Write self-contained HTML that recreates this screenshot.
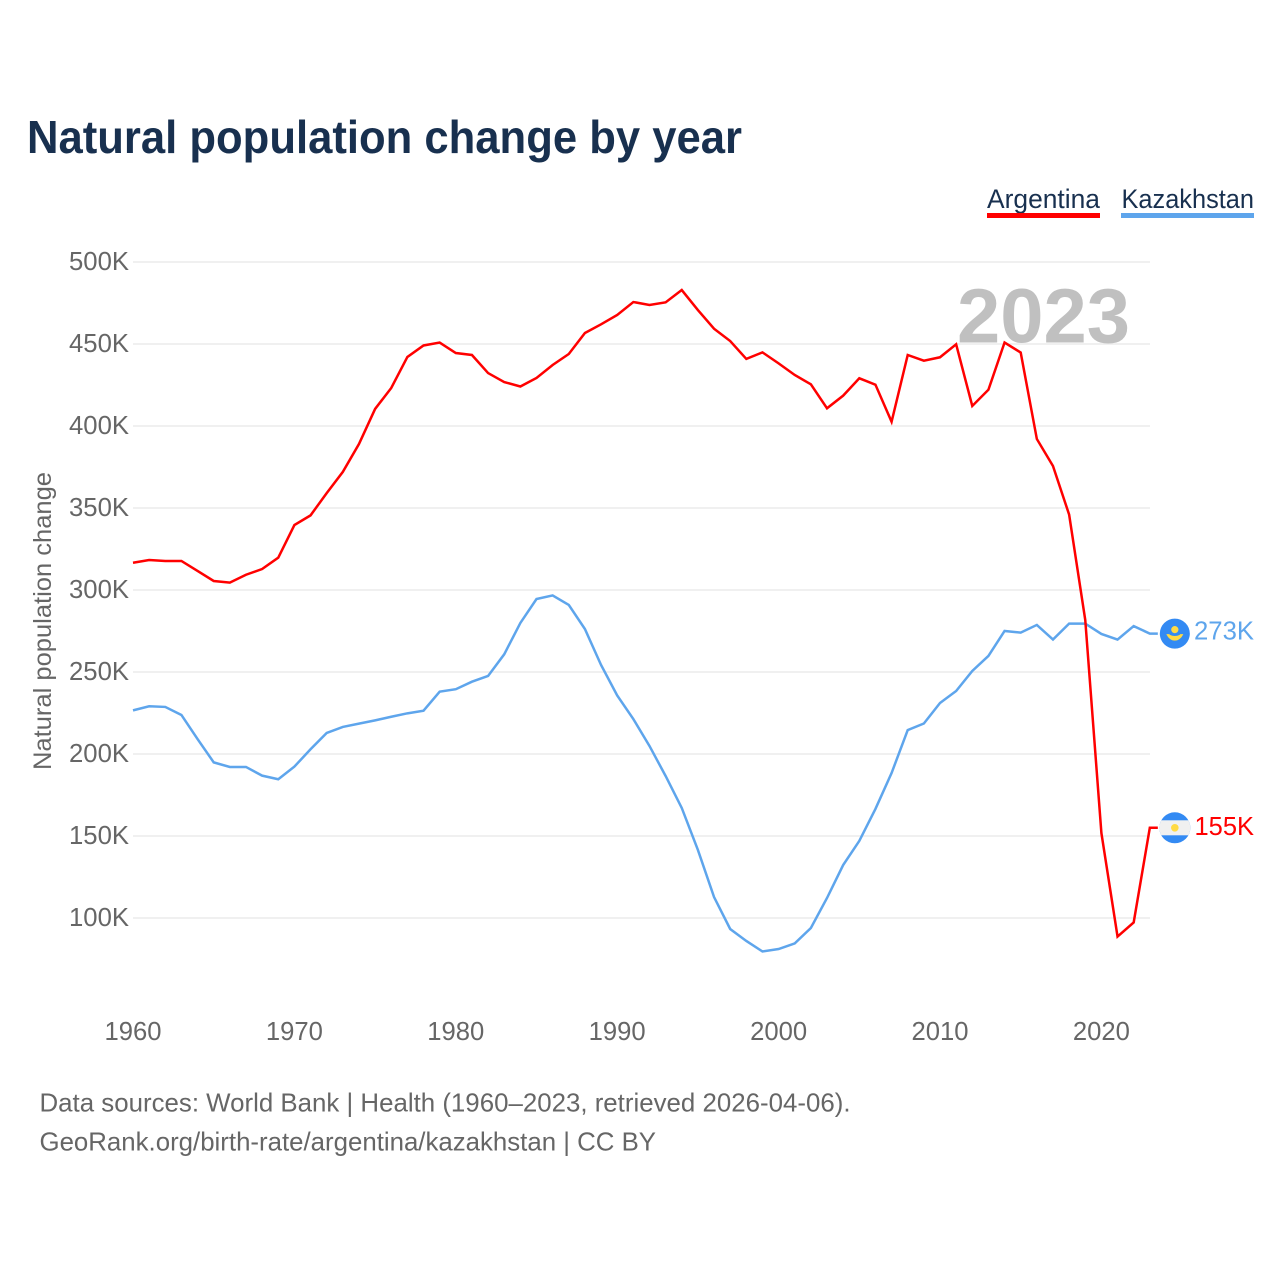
<!DOCTYPE html>
<html lang="en">
<head>
<meta charset="utf-8">
<title>Natural population change by year</title>
<style>
  html, body { margin: 0; padding: 0; background: #fff; }
  svg { display: block; font-family: "Liberation Sans", sans-serif; }
</style>
</head>
<body>
<svg id="chart" xmlns="http://www.w3.org/2000/svg" width="1280" height="1280" viewBox="0 0 1280 1280">
  <defs>
    <clipPath id="flag-clip"><circle cx="0" cy="0" r="15.5"></circle></clipPath>
  </defs>
  <rect x="0" y="0" width="1280" height="1280" fill="#ffffff"></rect>

  <text x="27" y="153" font-size="46" font-weight="700" fill="#18304f" textLength="715" lengthAdjust="spacingAndGlyphs">Natural population change by year</text>

  <g>
    <text x="987" y="208" font-size="27" fill="#18304f" textLength="113" lengthAdjust="spacingAndGlyphs">Argentina</text>
    <rect x="987" y="213" width="113" height="5" fill="#ff0000"></rect>
  </g>
  <g>
    <text x="1121.5" y="208" font-size="27" fill="#18304f" textLength="132.5" lengthAdjust="spacingAndGlyphs">Kazakhstan</text>
    <rect x="1121" y="213" width="133" height="5" fill="#5ea5ec"></rect>
  </g>

  <g id="grid"></g>
  <g id="y-ticks"></g>
  <g id="x-ticks"></g>

  <text x="957" y="342.5" font-size="77" font-weight="700" fill="#c0c0c0" textLength="173" lengthAdjust="spacingAndGlyphs">2023</text>

  <text transform="translate(51 621) rotate(-90)" text-anchor="middle" font-size="25" fill="#666666" textLength="298" lengthAdjust="spacingAndGlyphs">Natural population change</text>

  <path id="line-kazakhstan" fill="none" stroke="#5ea5ec" stroke-width="2.5" stroke-linejoin="miter"></path>
  <path id="line-argentina" fill="none" stroke="#ff0000" stroke-width="2.5" stroke-linejoin="miter"></path>

  <g id="flag-kazakhstan">
    <circle cx="0" cy="0" r="15" fill="#338af3"></circle>
    <circle cx="0" cy="-4" r="3.6" fill="#ffda44"></circle>
    <path d="M-8.5 0.5 L-5.5 0.5 C-3.5 3 3.5 3 5.5 0.5 L8.5 0.5 C6 5.5 3 7 0 7 C-3 7 -6 5.5 -8.5 0.5 Z" fill="#ffda44"></path>
  </g>
  <g id="flag-argentina">
    <circle cx="0" cy="0" r="15.5" fill="#338af3"></circle>
    <rect x="-16" y="-7.5" width="32" height="15" fill="#f0f0f0" clip-path="url(#flag-clip)"></rect>
    <circle cx="0" cy="0" r="3.8" fill="#ffda44"></circle>
  </g>

  <text id="label-kazakhstan" x="1194" font-size="25.5" fill="#5ea5ec" textLength="60" lengthAdjust="spacingAndGlyphs"></text>
  <text id="label-argentina" x="1194.5" font-size="25.5" fill="#ff0000" textLength="59.5" lengthAdjust="spacingAndGlyphs"></text>

  <text x="39.5" y="1111.5" font-size="26" fill="#666666" textLength="811" lengthAdjust="spacingAndGlyphs">Data sources: World Bank | Health (1960–2023, retrieved 2026-04-06).</text>
  <text x="39.5" y="1150.5" font-size="26" fill="#666666" textLength="616.5" lengthAdjust="spacingAndGlyphs">GeoRank.org/birth-rate/argentina/kazakhstan | CC BY</text>
</svg>

<script>
const startYear = 1960;
const argentinaValues = [316.6,318.3,317.7,317.7,311.6,305.5,304.5,309.3,312.8,319.7,339.6,345.5,359.1,372,389,410.4,423.2,442.1,449.1,450.9,444.5,443.3,432.3,426.8,424.1,429.3,437.2,443.9,456.7,462,467.7,475.6,473.8,475.4,482.9,470.7,459.3,451.8,440.9,444.9,438.2,431.1,425.4,410.8,418.5,429.1,425.2,402.6,443.3,439.8,441.9,449.8,412.2,422.1,450.9,444.8,392.1,375.6,346,281.7,151.8,88.7,97.3,155];
const kazakhstanValues = [226.6,229.1,228.7,223.8,209.1,194.9,192.1,192.1,186.8,184.6,192.3,202.9,212.8,216.5,218.5,220.5,222.7,224.8,226.4,238,239.5,244.1,247.6,260.8,279.9,294.5,296.7,290.9,276.2,254.3,235.7,221.3,204.9,186.6,167.1,141.5,112.8,93.3,86,79.6,81.1,84.5,93.9,112.2,132.3,147,166.5,188.4,214.6,218.6,231.1,238.4,250.6,259.8,275,274,278.7,269.8,279.5,279.5,273.2,269.8,278,273.4];
const yTickValues = [100,150,200,250,300,350,400,450,500];
const xTickValues = [1960,1970,1980,1990,2000,2010,2020];

const SVG_NS = 'http://www.w3.org/2000/svg';
const xScale = function (year) { return 133 + (year - 1960) * 16.14; };
const yScale = function (k) { return 918 - (k - 100) * 1.64; };

function linePath(values) {
  let d = '';
  values.forEach(function (v, i) {
    d += (i ? 'L' : 'M') + xScale(startYear + i).toFixed(2) + ' ' + yScale(v).toFixed(2);
  });
  const last = values[values.length - 1];
  d += 'L' + (xScale(startYear + values.length - 1) + 8).toFixed(2) + ' ' + yScale(last).toFixed(2);
  return d;
}

const gridGroup = document.getElementById('grid');
const yTickGroup = document.getElementById('y-ticks');
const xTickGroup = document.getElementById('x-ticks');

yTickValues.forEach(function (t) {
  const line = document.createElementNS(SVG_NS, 'line');
  
  
  line.setAttribute('x1', xScale(1960));
  line.setAttribute('x2', 1150);
  line.setAttribute('y1', yScale(t));
  line.setAttribute('y2', yScale(t));
  line.setAttribute('stroke', '#ececec');
  line.setAttribute('stroke-width', '1.4');
  gridGroup.appendChild(line);

  const label = document.createElementNS(SVG_NS, 'text');
  
  
  label.setAttribute('x', 69);
  label.setAttribute('y', yScale(t) + 8);
  label.setAttribute('font-size', '25.5');
  label.setAttribute('fill', '#666666');
  label.setAttribute('textLength', '60');
  label.setAttribute('lengthAdjust', 'spacingAndGlyphs');
  label.textContent = t + 'K';
  yTickGroup.appendChild(label);
});

xTickValues.forEach(function (t) {
  const label = document.createElementNS(SVG_NS, 'text');
  
  
  label.setAttribute('x', xScale(t) - 28.5);
  label.setAttribute('y', 1040);
  label.setAttribute('font-size', '25.5');
  label.setAttribute('fill', '#666666');
  label.setAttribute('textLength', '57');
  label.setAttribute('lengthAdjust', 'spacingAndGlyphs');
  label.textContent = String(t);
  xTickGroup.appendChild(label);
});

document.getElementById('line-argentina').setAttribute('d', linePath(argentinaValues));
document.getElementById('line-kazakhstan').setAttribute('d', linePath(kazakhstanValues));

const lastArgentina = argentinaValues[argentinaValues.length - 1];
const lastKazakhstan = kazakhstanValues[kazakhstanValues.length - 1];
const flagX = xScale(startYear + argentinaValues.length - 1) + 25;

document.getElementById('flag-argentina').setAttribute('transform', 'translate(' + flagX + ' ' + yScale(lastArgentina) + ')');
document.getElementById('flag-kazakhstan').setAttribute('transform', 'translate(' + flagX + ' ' + yScale(lastKazakhstan) + ')');

const argentinaLabel = document.getElementById('label-argentina');
argentinaLabel.setAttribute('y', yScale(lastArgentina) + 7);
argentinaLabel.textContent = Math.round(lastArgentina) + 'K';

const kazakhstanLabel = document.getElementById('label-kazakhstan');
kazakhstanLabel.setAttribute('y', yScale(lastKazakhstan) + 6);
kazakhstanLabel.textContent = Math.round(lastKazakhstan) + 'K';
</script>
</body>
</html>
